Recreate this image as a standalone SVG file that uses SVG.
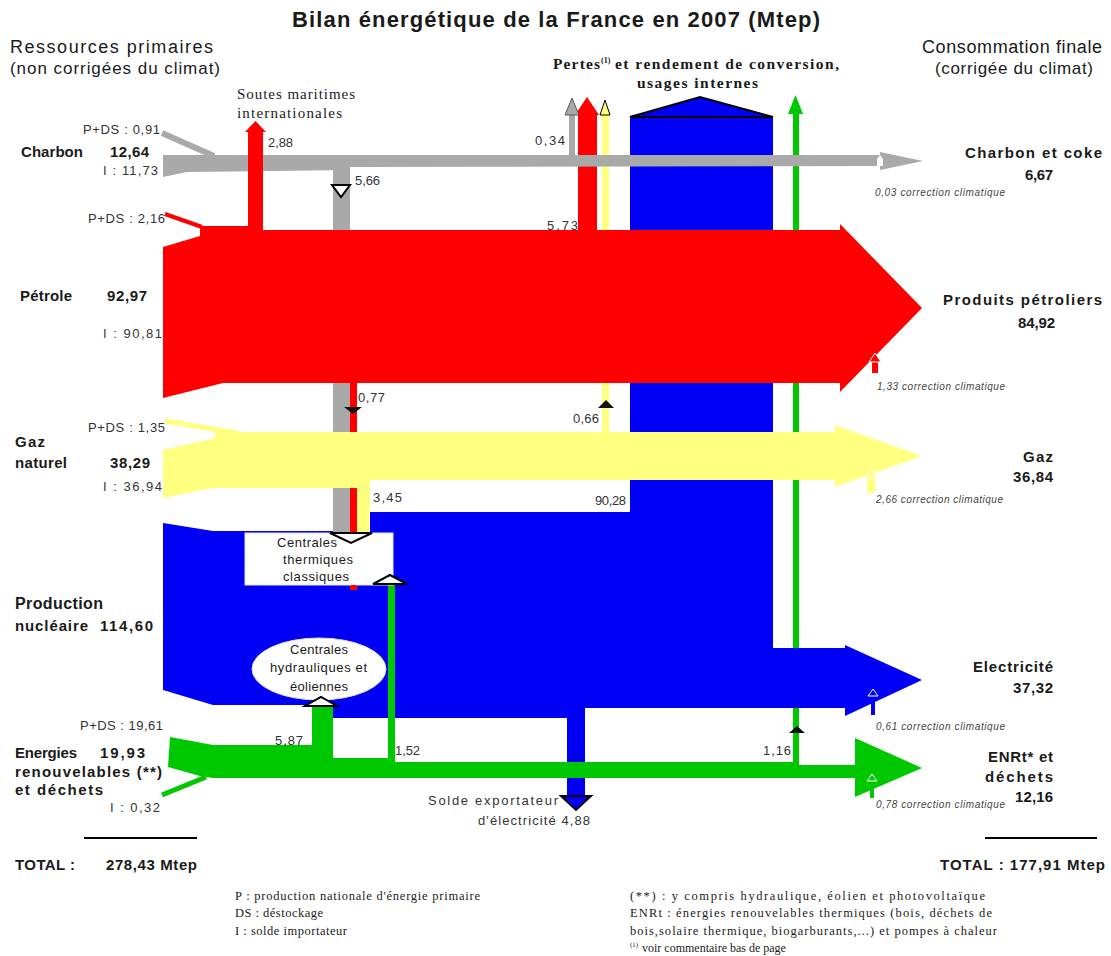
<svg xmlns="http://www.w3.org/2000/svg" width="1111" height="956" viewBox="0 0 1111 956">
<style>
.s{font-family:"Liberation Sans",Arial,sans-serif;fill:#1a1a1a}
.n{font-size:13px;fill:#333}
.b{font-size:15px;font-weight:bold}
.h{font-size:18px}
.i{font-family:"Liberation Sans",Arial,sans-serif;font-style:italic;font-size:10px;fill:#444}
.f{font-family:"Liberation Serif","Times New Roman",serif;font-size:12.5px;fill:#1a1a1a}
.sb{font-family:"Liberation Serif","Times New Roman",serif;font-weight:bold;font-size:15.5px;fill:#1a1a1a}
.gr{fill:#a9a9a9}.rd{fill:#ff0000}.ye{fill:#ffff80}.bl{fill:#0000f5}.gn{fill:#00c800}
.mk{fill:#fff;stroke:#000;stroke-width:2}
.dk{fill:#111}
</style>
<rect width="1111" height="956" fill="#fff"/>
<g id="connectors">
  <!-- green 1,16 vertical -->
  <rect class="gn" x="793" y="110" width="6" height="655"/>
  <polygon class="gn" points="788,114 795.5,95 803,114"/>
  <!-- blue nuclear / electricity -->
  <polygon class="bl" points="163,523 213,531 370,531 370,512 630,512 630,117 773,117 773,648 845,648 845,645 922,680 845,716 845,708 585,708 585,797 567,797 567,718 333,718 333,705 213,705 163,690"/>
  <polygon class="bl" points="630,117 700,97 773,117" stroke="#000" stroke-width="2"/>
  <!-- solde exportateur -->
  <polygon class="bl" points="561,796 591,796 576,810" stroke="#000" stroke-width="2"/>
  <!-- yellow 0,66 up -->
  <rect class="ye" x="602" y="113" width="7" height="324"/>
  <polygon class="ye" points="600,115 605,100 610,115" stroke="#000" stroke-width="1"/>
  <!-- red 5,73 up -->
  <rect class="rd" x="578" y="112" width="19" height="122"/>
  <polygon class="rd" points="575,115 587,97 599,115"/>
  <!-- grey 0,34 up -->
  <rect class="gr" x="569" y="112" width="6" height="45"/>
  <polygon class="gr" points="565,115 572,98 579,115" stroke="#555" stroke-width="1"/>
  <!-- grey band -->
  <line x1="162" y1="133" x2="214" y2="156" stroke="#a9a9a9" stroke-width="6"/>
  <polygon class="gr" points="163,155 880,155 880,152 923,161 880,170 880,166 350,167 350,170 187,172 163,177"/>
  <polygon points="877,166 877,159 880,155 883,159 883,166" fill="#fff"/>
  <!-- grey 5,66 down -->
  <rect class="gr" x="333" y="166" width="17" height="368"/>
  <!-- soutes -->
  <rect class="rd" x="248" y="130" width="15" height="100"/>
  <polygon class="rd" points="245,132 255.5,121 266,132"/>
  <!-- red band -->
  <line x1="165" y1="214" x2="202" y2="227" stroke="#ff0000" stroke-width="4"/>
  <polygon class="rd" points="163,247 200,236 200,226 263,226 263,230 840,230 840,224 922,308 840,392 840,383 223,383 163,398"/>
  <!-- red 0,77 down -->
  <rect class="rd" x="350" y="383" width="7" height="207"/>
  <!-- yellow band -->
  <line x1="165" y1="421" x2="238" y2="433" stroke="#ffff80" stroke-width="5"/>
  <polygon class="ye" points="163,450 215,438 215,432 835,432 835,425 922,456 835,487 835,480 370,480 370,488 213,488 163,498"/>
  <rect class="ye" x="357" y="486" width="13" height="48"/>
  <!-- green band -->
  <rect class="gn" x="312" y="704" width="21" height="46"/>
  <rect class="gn" x="388" y="584" width="7" height="180"/>
  <polygon class="gn" points="170,737 213,745 333,745 333,758 395,758 395,762 799,762 799,765 855,765 855,738 922,768 855,797 855,778 213,778 200,776 168,767"/>
  <line x1="162" y1="795" x2="206" y2="777" stroke="#00c800" stroke-width="5"/>
  <!-- markers -->
  <polygon class="mk" points="332,185 350,185 341,197"/>
  <polygon class="dk" points="344,407 362,407 353,414"/>
  <polygon class="dk" points="598,408 614,408 606,400"/>
  <polygon class="dk" points="789,733 805,733 797,726"/>
  <!-- correction markers -->
  <rect class="rd" x="872" y="362" width="6" height="11"/>
  <polygon class="rd" points="869,362 875,353 881,362" stroke="#fff" stroke-width="1"/>
  <rect class="ye" x="867" y="478" width="8" height="15"/>
  <polygon class="ye" points="865,478 871,470 877,478" stroke="#fff" stroke-width="1"/>
  <rect class="bl" x="871" y="695" width="4" height="20"/>
  <polygon class="bl" points="868,696 873,689 878,696" stroke="#fff" stroke-width="1"/>
  <rect class="gn" x="870" y="780" width="4" height="18"/>
  <polygon class="gn" points="867,781 872,774 877,781" stroke="#fff" stroke-width="1"/>
</g>
<g id="thermique">
  <rect x="245" y="533" width="148" height="52" fill="#fff" stroke="#e4e4e4" stroke-width="1"/>
  <rect class="rd" x="351" y="585" width="5" height="4"/>
  <polygon class="mk" points="330,533 372,533 351,543"/>
  <polygon class="mk" points="373,584 407,584 390,575"/>
  <text class="s" style="font-size:13px" x="277" y="547" textLength="60">Centrales</text>
  <text class="s" style="font-size:13px" x="283" y="564" textLength="70">thermiques</text>
  <text class="s" style="font-size:13px" x="283" y="581" textLength="66">classiques</text>
</g>
<g id="hydro">
  <ellipse cx="319" cy="669" rx="67" ry="31" fill="#fff" stroke="#ddd"/>
  <polygon class="mk" points="305,706 337,706 321,697"/>
  <text class="s" style="font-size:13px" x="290" y="654" textLength="58">Centrales</text>
  <text class="s" style="font-size:13px" x="270" y="672" textLength="97">hydrauliques et</text>
  <text class="s" style="font-size:13px" x="290" y="691" textLength="58">éoliennes</text>
</g>
<g id="title">
  <text class="s" style="font-size:22px;font-weight:bold" x="292" y="27" textLength="528">Bilan énergétique de la France en 2007 (Mtep)</text>
  <text class="s h" x="10" y="53" textLength="203">Ressources primaires</text>
  <text class="s" style="font-size:17px" x="10" y="74" textLength="210">(non corrigées du climat)</text>
  <text class="s h" x="922" y="53" textLength="180">Consommation finale</text>
  <text class="s" style="font-size:17px" x="935" y="74" textLength="158">(corrigée du climat)</text>
</g>
<g id="pertes">
  <text class="sb" x="553" y="69" textLength="47">Pertes</text>
  <text class="sb" style="font-size:8px" x="601" y="63">(1)</text>
  <text class="sb" x="615" y="69" textLength="224">et rendement de conversion,</text>
  <text class="sb" x="637" y="88" textLength="121">usages internes</text>
  <text class="s n" x="535" y="145" textLength="30">0,34</text>
  <text class="s n" x="547" y="230" textLength="31">5,73</text>
  <text class="s n" x="573" y="423" textLength="26">0,66</text>
  <text class="s n" x="595" y="505" textLength="31">90,28</text>
  <text class="s n" x="763" y="755" textLength="28">1,16</text>
</g>
<g id="soutes">
  <text class="f" style="font-size:15px" x="237" y="99" textLength="118">Soutes maritimes</text>
  <text class="f" style="font-size:15px" x="237" y="118" textLength="105">internationales</text>
  <text class="s n" x="268" y="147" textLength="25">2,88</text>
</g>
<g id="charbon">
  <text class="s n" x="83" y="134" textLength="77">P+DS : 0,91</text>
  <text class="s b" x="21" y="157" textLength="62">Charbon</text>
  <text class="s b" x="110" y="157" textLength="39">12,64</text>
  <text class="s n" x="103" y="175" textLength="55">I  : 11,73</text>
  <text class="s n" x="355" y="185" textLength="25">5,66</text>
</g>
<g id="petrole">
  <text class="s n" x="88" y="223" textLength="77">P+DS : 2,16</text>
  <text class="s b" x="20" y="301" textLength="52">Pétrole</text>
  <text class="s b" x="107" y="301" textLength="40">92,97</text>
  <text class="s n" x="103" y="338" textLength="59">I  : 90,81</text>
  <text class="s n" x="358" y="402" textLength="27">0,77</text>
</g>
<g id="gaz">
  <text class="s n" x="88" y="432" textLength="77">P+DS : 1,35</text>
  <text class="s b" x="15" y="447" textLength="30">Gaz</text>
  <text class="s b" x="15" y="468" textLength="52">naturel</text>
  <text class="s b" x="110" y="468" textLength="40">38,29</text>
  <text class="s n" x="103" y="491" textLength="59">I  : 36,94</text>
  <text class="s n" x="373" y="502" textLength="29">3,45</text>
</g>
<g id="nucleaire">
  <text class="s b" style="font-size:16px" x="15" y="609" textLength="88">Production</text>
  <text class="s b" x="15" y="631" textLength="73">nucléaire</text>
  <text class="s b" x="100" y="631" textLength="53">114,60</text>
</g>
<g id="enr">
  <text class="s n" x="80" y="730" textLength="83">P+DS : 19,61</text>
  <text class="s b" x="15" y="758" textLength="62">Energies</text>
  <text class="s b" x="100" y="758" textLength="45">19,93</text>
  <text class="s b" x="15" y="777" textLength="147">renouvelables (**)</text>
  <text class="s b" x="15" y="795" textLength="88">et déchets</text>
  <text class="s n" x="110" y="812" textLength="50">I  : 0,32</text>
  <text class="s n" x="275" y="745" textLength="28">5,87</text>
  <text class="s n" x="395" y="755" textLength="25">1,52</text>
</g>
<g id="solde">
  <text class="s n" x="428" y="805" textLength="130">Solde exportateur</text>
  <text class="s n" x="478" y="825" textLength="112">d'électricité 4,88</text>
</g>
<g id="totaux">
  <line x1="84" y1="838" x2="197" y2="838" stroke="#000" stroke-width="2"/>
  <line x1="985" y1="838" x2="1097" y2="838" stroke="#000" stroke-width="2"/>
  <text class="s b" x="15" y="870" textLength="60">TOTAL :</text>
  <text class="s b" x="106" y="870" textLength="91">278,43 Mtep</text>
  <text class="s b" x="940" y="870" textLength="165">TOTAL : 177,91 Mtep</text>
</g>
<g id="finale">
  <text class="s b" x="965" y="158" textLength="137">Charbon et coke</text>
  <text class="s b" x="1025" y="180" textLength="28">6,67</text>
  <text class="i" x="875" y="196" textLength="130">0,03 correction climatique</text>
  <text class="s b" x="943" y="305" textLength="159">Produits pétroliers</text>
  <text class="s b" x="1018" y="328" textLength="37">84,92</text>
  <text class="i" x="877" y="390" textLength="128">1,33 correction climatique</text>
  <text class="s b" x="1023" y="462" textLength="30">Gaz</text>
  <text class="s b" x="1013" y="482" textLength="40">36,84</text>
  <text class="i" x="876" y="503" textLength="127">2,66 correction climatique</text>
  <text class="s b" x="973" y="672" textLength="80">Electricité</text>
  <text class="s b" x="1013" y="693" textLength="40">37,32</text>
  <text class="i" x="876" y="730" textLength="129">0,61 correction climatique</text>
  <text class="s b" x="988" y="762" textLength="65">ENRt* et</text>
  <text class="s b" x="985" y="782" textLength="68">déchets</text>
  <text class="s b" x="1015" y="802" textLength="38">12,16</text>
  <text class="i" x="876" y="808" textLength="129">0,78 correction climatique</text>
</g>
<g id="notes">
  <text class="f" x="235" y="900" textLength="245">P : production nationale d'énergie primaire</text>
  <text class="f" x="235" y="917" textLength="88">DS : déstockage</text>
  <text class="f" x="235" y="935" textLength="112">I : solde importateur</text>
  <text class="f" x="630" y="900" textLength="355">(**) : y compris hydraulique, éolien et photovoltaïque</text>
  <text class="f" x="630" y="917" textLength="362">ENRt : énergies renouvelables thermiques (bois, déchets de</text>
  <text class="f" x="630" y="935" textLength="367">bois,solaire thermique, biogarburants,...) et pompes à chaleur</text>
  <text class="f" style="font-size:7px" x="630" y="947">(1)</text>
  <text class="f" style="font-size:12px" x="642" y="952">voir commentaire bas de page</text>
</g>
</svg>
